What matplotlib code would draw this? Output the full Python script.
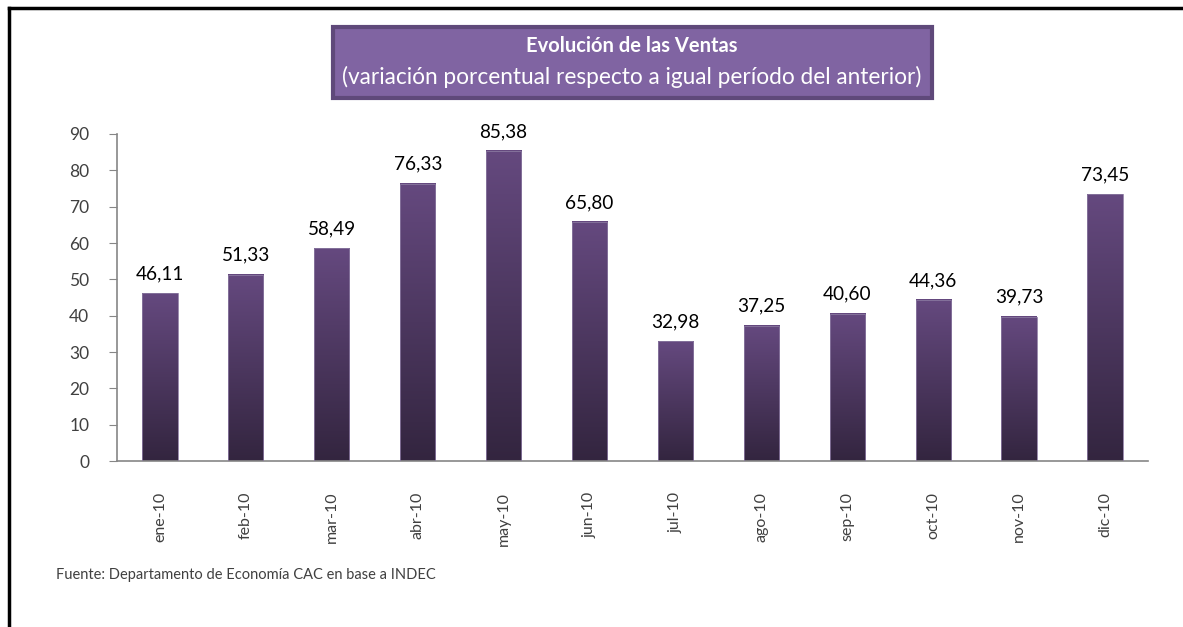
import matplotlib
matplotlib.use('Agg')
import matplotlib.pyplot as plt
import numpy as np
from matplotlib.colors import LinearSegmentedColormap
from matplotlib.patches import Rectangle
from matplotlib.lines import Line2D

meses = ['ene-10', 'feb-10', 'mar-10', 'abr-10', 'may-10', 'jun-10',
         'jul-10', 'ago-10', 'sep-10', 'oct-10', 'nov-10', 'dic-10']
variacion = [46.11, 51.33, 58.49, 76.33, 85.38, 65.80,
             32.98, 37.25, 40.60, 44.36, 39.73, 73.45]

plt.rcParams['font.family'] = ['Lato', 'DejaVu Sans']

fig = plt.figure(figsize=(11.83, 6.27), dpi=100)
ax = fig.add_axes([0.0989, 0.2647, 0.8715, 0.5216])

x = np.arange(len(meses))
width = 0.41
bars = ax.bar(x, variacion, width=width, color='none', edgecolor='#8a78a0', linewidth=0.6, zorder=3)

# degradado vertical dentro de cada barra
cmap = LinearSegmentedColormap.from_list('morado', ['#33253f', '#65497f'])
grad = np.linspace(0, 1, 256).reshape(-1, 1)
for b in bars:
    x0, h = b.get_x(), b.get_height()
    ax.imshow(grad, cmap=cmap, origin='lower', aspect='auto',
              extent=[x0, x0 + width, 0, h], zorder=2)

for xi, v in zip(x, variacion):
    ax.text(xi, v + 3, f'{v:.2f}'.replace('.', ','), ha='center', va='bottom',
            fontsize=13.7, color='black')

ax.set_xlim(-0.5, len(meses) - 0.5)
ax.set_ylim(0, 90)
ax.set_yticks(range(0, 91, 10))
ax.set_xticks(x)
ax.set_xticklabels(meses, rotation=90, fontsize=11.5, color='#404040')
ax.tick_params(axis='y', labelsize=12.5, labelcolor='#404040', color='#868686', length=6, pad=14)
ax.tick_params(axis='x', length=0, pad=22)
for s in ['top', 'right']:
    ax.spines[s].set_visible(False)
for s in ['left', 'bottom']:
    ax.spines[s].set_color('#868686')
    ax.spines[s].set_linewidth(1.2)

# caja del título
box = Rectangle((333 / 1183, 1 - 98 / 627), (932 - 333) / 1183, (98 - 27) / 627,
                transform=fig.transFigure, facecolor='#8064a2', edgecolor='#5f497a',
                linewidth=3, zorder=1)
fig.patches.append(box)
fig.text(632 / 1183, 1 - 46 / 627, 'Evolución de las Ventas', ha='center', va='center',
         fontsize=14.5, fontweight='bold', color='white')
fig.text(632 / 1183, 1 - 77 / 627, '(variación porcentual respecto a igual período del anterior)',
         ha='center', va='center', fontsize=16.3, color='white')

fig.text(56 / 1183, 1 - 575 / 627, 'Fuente: Departamento de Economía CAC en base a INDEC',
         ha='left', va='center', fontsize=10.5, color='#404040')

# marco exterior (izquierda y arriba)
fig.lines.append(Line2D([9 / 1183, 9 / 1183], [0, 1 - 8 / 627], transform=fig.transFigure,
                        color='black', linewidth=2.5))
fig.lines.append(Line2D([9 / 1183, 1], [1 - 8 / 627, 1 - 8 / 627], transform=fig.transFigure,
                        color='black', linewidth=2.5))

fig.savefig('out.png', dpi=100)
